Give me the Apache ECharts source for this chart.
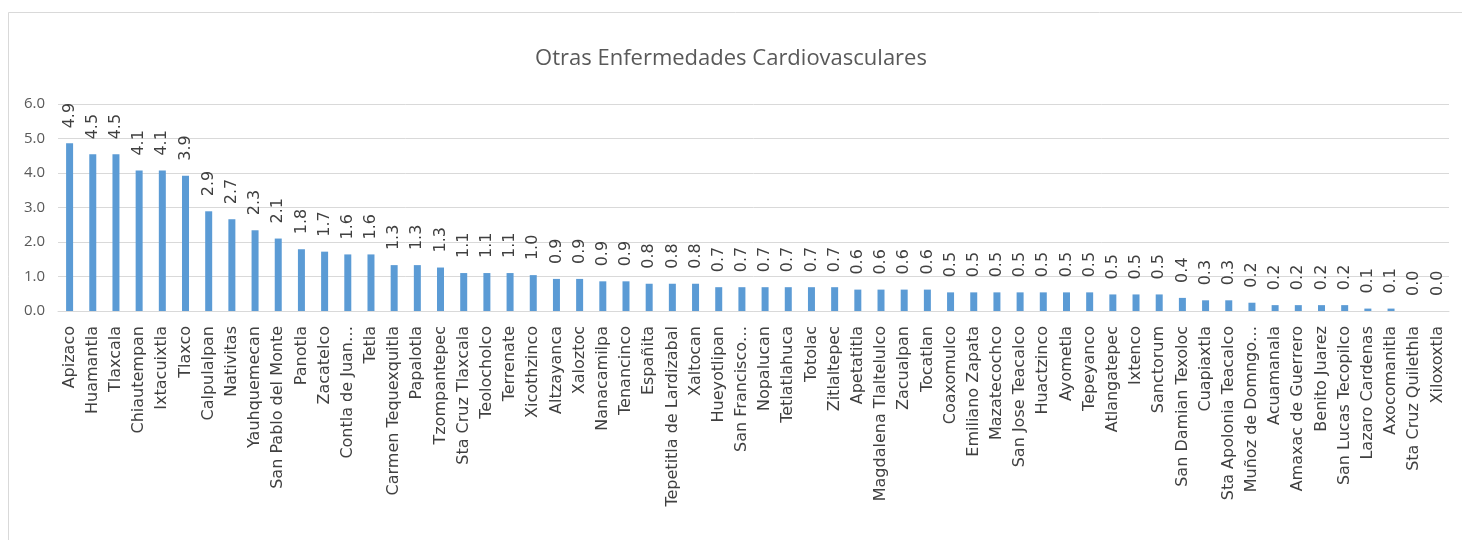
<!DOCTYPE html>
<html>
<head>
<meta charset="utf-8">
<script src="https://cdn.jsdelivr.net/npm/echarts@6/dist/echarts.min.js"></script>
<style>
  html, body { margin: 0; padding: 0; background: #fff; }
  #chart { width: 1462px; height: 540px; }
</style>
</head>
<body>
<div id="chart"></div>
<script>
var titleText = 'Otras Enfermedades Cardiovasculares';

var municipios = [
    'Apizaco', 'Huamantla', 'Tlaxcala', 'Chiautempan', 'Ixtacuixtla', 'Tlaxco',
    'Calpulalpan', 'Nativitas', 'Yauhquemecan', 'San Pablo del Monte', 'Panotla',
    'Zacatelco', 'Contla de Juan…', 'Tetla', 'Carmen Tequexquitla', 'Papalotla',
    'Tzompantepec', 'Sta Cruz Tlaxcala', 'Teolocholco', 'Terrenate', 'Xicothzinco',
    'Altzayanca', 'Xaloztoc', 'Nanacamilpa', 'Tenancinco', 'Españita',
    'Tepetitla de Lardizabal', 'Xaltocan', 'Hueyotlipan', 'San Francisco…',
    'Nopalucan', 'Tetlatlahuca', 'Totolac', 'Zitlaltepec', 'Apetatitla',
    'Magdalena Tlaltelulco', 'Zacualpan', 'Tocatlan', 'Coaxomulco', 'Emiliano Zapata',
    'Mazatecochco', 'San Jose Teacalco', 'Huactzinco', 'Ayometla', 'Tepeyanco',
    'Atlangatepec', 'Ixtenco', 'Sanctorum', 'San Damian Texoloc', 'Cuapiaxtla',
    'Sta Apolonia Teacalco', 'Muñoz de Domngo…', 'Acuamanala', 'Amaxac de Guerrero',
    'Benito Juarez', 'San Lucas Tecopilco', 'Lazaro Cardenas', 'Axocomanitla',
    'Sta Cruz Quilethla', 'Xiloxoxtla'
];

var tasas = [
    4.86, 4.54, 4.54, 4.07, 4.07, 3.92,
    2.89, 2.66, 2.34, 2.10, 1.79,
    1.72, 1.64, 1.64, 1.33, 1.33,
    1.26, 1.10, 1.10, 1.10, 1.04,
    0.93, 0.93, 0.86, 0.86, 0.79,
    0.79, 0.79, 0.69, 0.69,
    0.69, 0.69, 0.69, 0.69, 0.62,
    0.62, 0.62, 0.62, 0.54, 0.54,
    0.54, 0.54, 0.54, 0.54, 0.54,
    0.48, 0.48, 0.48, 0.38, 0.31,
    0.31, 0.24, 0.17, 0.17,
    0.17, 0.17, 0.07, 0.07,
    0.0, 0.0
];

var yTicks = { min: 0, max: 6, interval: 1 };

var fuente = '"Open Sans", sans-serif';
var fuenteAncha = '"DejaVu Sans", sans-serif';

var option = {
    animation: false,
    backgroundColor: '#ffffff',
    graphic: [
        {
            type: 'rect',
            shape: { x: 8.5, y: 12.5, width: 1470, height: 540 },
            style: { fill: 'none', stroke: '#d9d9d9', lineWidth: 1 },
            silent: true
        }
    ],
    title: {
        text: titleText,
        left: 'center',
        top: 43,
        textStyle: {
            color: '#595959',
            fontFamily: fuente,
            fontWeight: 'normal',
            fontSize: 22
        }
    },
    grid: {
        left: 58,
        right: 13,
        top: 104,
        bottom: 229
    },
    xAxis: {
        type: 'category',
        data: municipios,
        axisTick: { show: false },
        axisLine: { show: true, lineStyle: { color: '#d9d9d9', width: 1 } },
        axisLabel: {
            interval: 0,
            rotate: 90,
            margin: 15,
            color: '#404040',
            fontFamily: fuenteAncha,
            fontSize: 16
        }
    },
    yAxis: {
        type: 'value',
        min: yTicks.min,
        max: yTicks.max,
        interval: yTicks.interval,
        axisLine: { show: false },
        axisTick: { show: false },
        axisLabel: {
            margin: 13,
            color: '#595959',
            fontFamily: fuente,
            fontSize: 15,
            formatter: function (v) { return v.toFixed(1); }
        },
        splitLine: { lineStyle: { color: '#d9d9d9', width: 1 } }
    },
    series: [
        {
            type: 'bar',
            data: tasas,
            barWidth: 7,
            itemStyle: { color: '#5b9bd5' },
            label: {
                show: true,
                position: 'top',
                distance: 15,
                rotate: 90,
                align: 'left',
                verticalAlign: 'middle',
                color: '#404040',
                fontFamily: fuenteAncha,
                fontSize: 16,
                formatter: function (p) { return p.value.toFixed(1); }
            }
        }
    ]
};

var chart = echarts.init(document.getElementById('chart'));
chart.setOption(option);
</script>
</body>
</html>
